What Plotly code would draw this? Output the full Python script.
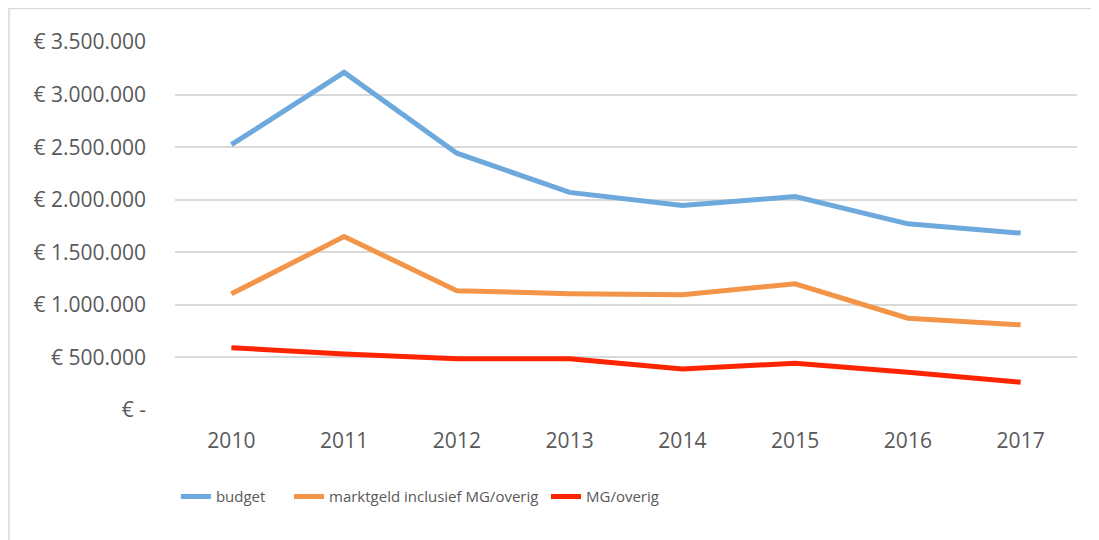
import plotly.graph_objects as go

years = ["2010", "2011", "2012", "2013", "2014", "2015", "2016", "2017"]
budget = [2524000, 3212000, 2443000, 2070000, 1946000, 2031000, 1771000, 1683000]
marktgeld = [1105000, 1650000, 1135000, 1107000, 1097000, 1200000, 873000, 810000]
mg_overig = [593000, 533000, 487000, 487000, 391000, 445000, 359000, 264000]

series_names = ["budget", "marktgeld inclusief MG/overig", "MG/overig"]
series_colors = ["#6DA9DC", "#F39548", "#FF2400"]

y_tickvals = [0, 500000, 1000000, 1500000, 2000000, 2500000, 3000000, 3500000]
y_ticktext = ["€ -", "€ 500.000", "€ 1.000.000", "€ 1.500.000", "€ 2.000.000",
              "€ 2.500.000", "€ 3.000.000", "€ 3.500.000"]

legend_ids = ["legend", "legend2", "legend3"]
legend_x = [0.001, 0.1264, 0.4113]

fig = go.Figure()
for name, vals, col, lid in zip(series_names, [budget, marktgeld, mg_overig],
                                series_colors, legend_ids):
    fig.add_trace(go.Scatter(x=years, y=vals, mode="lines", name=name, legend=lid,
                             line=dict(color=col, width=5)))

font_family = "Open Sans, sans-serif"
legend_common = dict(orientation="h", y=-0.236, xanchor="left", yanchor="middle",
                     font=dict(size=15, color="#595959"), itemwidth=30,
                     bgcolor="rgba(0,0,0,0)")

fig.update_layout(
    width=1091, height=532,
    margin=dict(l=167, r=22, t=34, b=130),
    paper_bgcolor="white", plot_bgcolor="white",
    font=dict(family=font_family, color="#595959", size=21),
    showlegend=True,
    legend=dict(x=legend_x[0], **legend_common),
    legend2=dict(x=legend_x[1], **legend_common),
    legend3=dict(x=legend_x[2], **legend_common),
    xaxis=dict(type="category", range=[-0.5, 7.5], showgrid=False, zeroline=False,
               showline=False, ticks="", ticklabelstandoff=16,
               tickfont=dict(size=21, color="#595959")),
    yaxis=dict(range=[0, 3501000], tickvals=y_tickvals, ticktext=y_ticktext,
               showgrid=True, gridcolor="#D9D9D9", gridwidth=1.5,
               zeroline=False, showline=False, ticks="", ticklabelstandoff=28,
               tickfont=dict(size=21, color="#595959")),
    shapes=[dict(type="rect", xref="paper", yref="paper",
                 x0=(1 - 167) / 902, x1=(1200 - 167) / 902,
                 y0=-1.0, y1=(368 + 34 - 0.5) / 368,
                 line=dict(color="#D9D9D9", width=1.5), fillcolor="rgba(0,0,0,0)",
                 layer="below")],
)

fig.write_html("out.html")
